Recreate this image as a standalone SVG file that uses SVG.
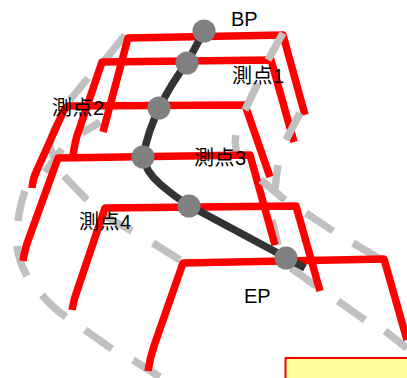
<svg xmlns="http://www.w3.org/2000/svg" width="407" height="378" viewBox="0 0 407 378">
<style>
.g{fill:none;stroke:#c0c0c0;stroke-width:7.500}
.r{fill:none;stroke:#ff0000;stroke-width:7.500;stroke-linejoin:round}
.k{fill:none;stroke:#333333;stroke-width:7.500}
.n{fill:#808080}
text{font-family:"Liberation Sans","Noto Sans CJK JP",sans-serif;font-size:20px;fill:#000}
.c{letter-spacing:.5px}
</style>
<rect x="285.500" y="358" width="125" height="30" fill="#ffff99" stroke="#ff0000" stroke-width="2"/>
<g id="connectors">
<path class="g" d="M125 35L105 60M88 78L70 100M100 122L82 133M57 124Q49 140 50 147Q52 153 54 157M62 149L45 172M64 176L87 200M25 191Q20 205 18 221M17 246Q19 262 27 276M42 295Q52 307 66 317M85 330L112 349M133 360L160 377M103 215L132 231M153 243L180 260M291 268L316 286M306 213L333 231M353 243L380 259M338 301L365 320M385 331L407 348M236 135Q234 147 238 157M272 220L278 245"/>
<path class="r" d="M103 132L128 38L283 35L305 115"/>
<path class="r" d="M73 156Q75 140 79 130L102 62L271 60L294 142"/>
<path class="r" d="M32 188Q33 178 37 170L64 110L68 106L245 105L270 177"/>
<path class="r" d="M23 261Q25 248 29 238L58 158L250 155L275 245"/>
<path class="r" d="M72 310Q74 298 78 288L105 208L296 206L320 291"/>
<path class="r" d="M148 371Q150 358 154 346L183 263L384 259L407 340"/>
<path class="g" d="M283 33L268 60M258 83L245 110M300 113L286 140M278 165Q276 178 275 190M261 180L285 200"/>
<path class="k" d="M204 31L187 63Q170 85 160 107Q148 130 143 157Q146 172 160 184Q175 197 190 206L287 258L305 268"/>
</g>
<g id="BP"><circle class="n" cx="204" cy="31" r="11.500"/><text x="231" y="26">BP</text></g>
<g id="P1"><circle class="n" cx="187" cy="63" r="11.500"/><text class="c" x="232" y="83">測点1</text></g>
<g id="P2"><circle class="n" cx="159" cy="108" r="11.500"/><text class="c" x="52" y="115">測点2</text></g>
<g id="P3"><circle class="n" cx="143" cy="157" r="11.500"/><text class="c" x="194" y="165">測点3</text></g>
<g id="P4"><circle class="n" cx="189" cy="206" r="11.500"/><text class="c" x="79" y="229">測点4</text></g>
<g id="EP"><circle class="n" cx="286" cy="258" r="11.500"/><text x="244" y="303">EP</text></g>
</svg>
